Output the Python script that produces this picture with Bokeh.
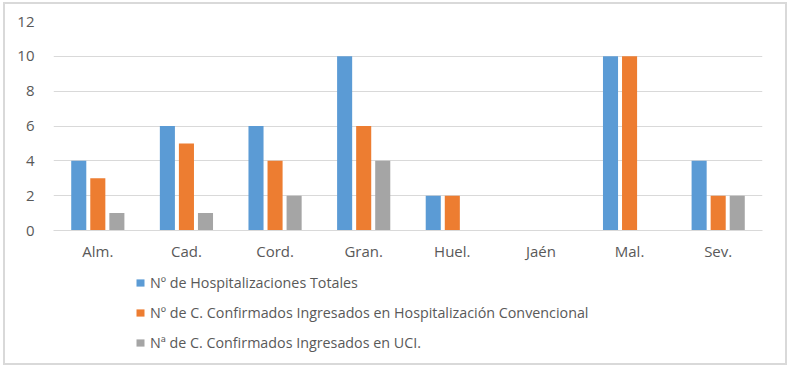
from bokeh.plotting import figure
from bokeh.layouts import column
from bokeh.models import ColumnDataSource, FactorRange, Legend, LegendItem, Range1d, FixedTicker
from bokeh.transform import dodge
from bokeh.embed import file_html
from bokeh.resources import INLINE

categories = ["Alm.", "Cad.", "Cord.", "Gran.", "Huel.", "Jaén", "Mal.", "Sev."]
hosp_totales = [4, 6, 6, 10, 2, 0, 10, 4]
hosp_convencional = [3, 5, 4, 6, 2, 0, 10, 2]
ingresados_uci = [1, 1, 2, 4, 0, 0, 0, 2]
series_names = [
    "Nº de Hospitalizaciones Totales",
    "Nº de C. Confirmados Ingresados en Hospitalización Convencional",
    "Nª de C. Confirmados Ingresados en UCI.",
]
y_ticks = [0, 2, 4, 6, 8, 10, 12]

colors = ["#5B9BD5", "#ED7D31", "#A5A5A5"]
FONT = "Open Sans"
TXT = "#595959"

src = ColumnDataSource(dict(cat=categories, a=hosp_totales, b=hosp_convencional, c=ingresados_uci))
xr = FactorRange(factors=categories, range_padding=0)
yr = Range1d(0, 12)

p = figure(x_range=xr, y_range=yr,
           width=780, height=262,
           min_border_left=48, min_border_right=23, min_border_top=17, min_border_bottom=36,
           output_backend="svg", toolbar_location=None, tools="")
p.outline_line_color = None

keys = ["a", "b", "c"]
offsets = [-0.215, 0.0, 0.215]
for key, off, col in zip(keys, offsets, colors):
    p.vbar(x=dodge("cat", off, range=xr), top=key, width=0.17, source=src,
           fill_color=col, line_color=None)

p.yaxis.ticker = FixedTicker(ticks=y_ticks)
p.ygrid.grid_line_color = "#d9d9d9"
p.ygrid.grid_line_width = 1
p.xgrid.grid_line_color = None
p.yaxis.axis_line_color = None
p.yaxis.major_tick_line_color = None
p.yaxis.minor_tick_line_color = None
p.yaxis.major_label_standoff = 13
p.xaxis.axis_line_color = "#d9d9d9"
p.xaxis.major_tick_line_color = None
p.xaxis.minor_tick_line_color = None
p.xaxis.major_label_standoff = 4
for ax in (p.xaxis, p.yaxis):
    ax.major_label_text_font = FONT
    ax.major_label_text_font_size = "15px"
    ax.major_label_text_color = TXT

# legend panel (hidden copies of the series supply the legend swatches)
pl = figure(width=780, height=97, x_range=xr, y_range=yr,
            min_border=0, min_border_left=0, min_border_right=0, min_border_top=0, min_border_bottom=0,
            output_backend="svg", toolbar_location=None, tools="")
pl.axis.visible = False
pl.grid.visible = False
pl.outline_line_color = None
proxies = []
for key, off, col in zip(keys, offsets, colors):
    r = pl.vbar(x=dodge("cat", off, range=xr), top=key, width=0.17, source=src,
                fill_color=col, line_color=None, visible=False)
    proxies.append(r)

legend = Legend(items=[LegendItem(label=n, renderers=[r]) for n, r in zip(series_names, proxies)],
                location=(82, 11), orientation="vertical")
legend.padding = 0
legend.margin = 0
legend.spacing = 10
legend.glyph_width = 10
legend.glyph_height = 9
legend.label_height = 20
legend.label_standoff = 5
legend.label_text_font = FONT
legend.label_text_font_size = "14.3px"
legend.label_text_color = TXT
legend.border_line_color = None
legend.background_fill_alpha = 0
legend.inactive_fill_alpha = 0
pl.add_layout(legend, "center")

lay = column(p, pl, spacing=0)
lay.styles = {"border": "2px solid #d9d9d9", "margin-left": "3px", "margin-top": "2px"}

open("out.html", "w").write(file_html(lay, INLINE))
